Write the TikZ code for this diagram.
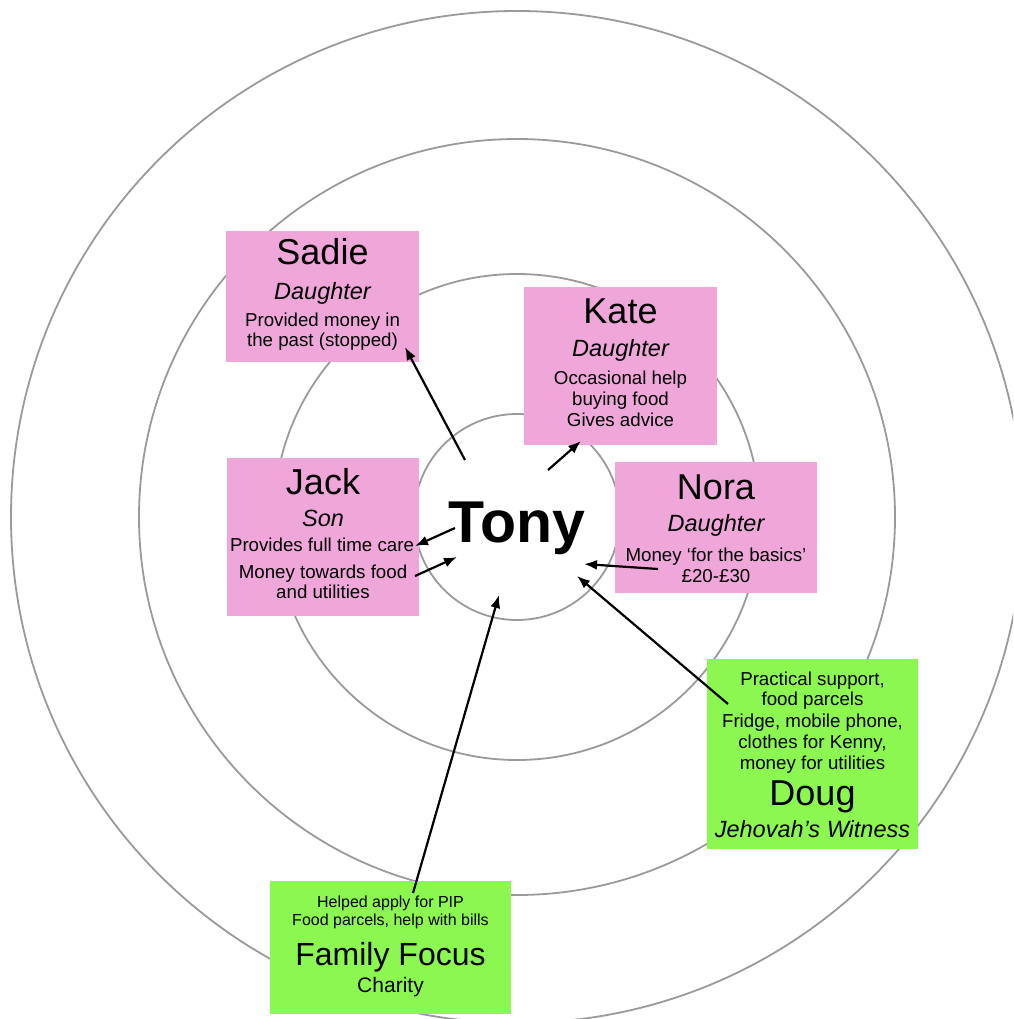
\documentclass[tikz,border=0pt]{standalone}
\usepackage{fontspec}
\setmainfont{Liberation Sans}
\usetikzlibrary{arrows.meta}
\definecolor{boxpink}{HTML}{EFA6D8}
\definecolor{boxgreen}{HTML}{8BF750}
\definecolor{ringgray}{HTML}{9A9A9A}

\begin{document}
\begin{tikzpicture}[x=1pt,y=-1pt,
  ring/.style={draw=ringgray, line width=1.8pt},
  kinbox/.style={fill=boxpink, draw=none, inner sep=0pt},
  aidbox/.style={fill=boxgreen, draw=none, inner sep=0pt},
  txt/.style={anchor=base, inner sep=0pt},
  persname/.style={txt, font=\fontsize{36}{40}\selectfont},
  rolelabel/.style={txt, font=\fontsize{23.5}{26}\selectfont\itshape},
  detail/.style={txt, font=\fontsize{18.7}{21}\selectfont},
  smalldetail/.style={txt, font=\fontsize{16}{18}\selectfont},
  link/.style={draw=black, line width=2.2pt, -{Latex[length=13pt,width=10pt]}}
]
\useasboundingbox (0,0) rectangle (1013,1019);
\clip (0,0) rectangle (1013,1019);

% concentric rings around Tony
\draw[ring] (517,517) circle[radius=103pt];
\draw[ring] (517,517) circle[radius=243pt];
\draw[ring] (517,517) circle[radius=378pt];
\draw[ring] (517,517) circle[radius=506pt];

% boxes
\node[kinbox, minimum width=193pt, minimum height=131pt] (sadie) at (322.5,296.5) {};
\node[kinbox, minimum width=193pt, minimum height=158pt] (kate) at (620.5,366) {};
\node[kinbox, minimum width=192pt, minimum height=158pt] (jack) at (323,537) {};
\node[kinbox, minimum width=202pt, minimum height=131pt] (nora) at (716,527.5) {};
\node[aidbox, minimum width=211pt, minimum height=190pt] (doug) at (812.5,754) {};
\node[aidbox, minimum width=241pt, minimum height=133pt] (ffocus) at (390.5,947.5) {};

% centre
\node[txt, font=\fontsize{59}{62}\selectfont\bfseries] (tony) at (517,542) {Tony};

% Sadie
\node[persname] (sadieN) at (322.5,264) {Sadie};
\node[rolelabel] (sadieR) at (322.5,299) {Daughter};
\node[detail] (sadieA) at (322.5,326) {Provided money in};
\node[detail] (sadieB) at (322.5,346) {the past (stopped)};

% Kate
\node[persname] (kateN) at (620.5,323) {Kate};
\node[rolelabel] (kateR) at (620.5,356) {Daughter};
\node[detail] (kateA) at (620.5,384) {Occasional help};
\node[detail] (kateB) at (620.5,405) {buying food};
\node[detail] (kateC) at (620.5,426) {Gives advice};

% Jack
\node[persname] (jackN) at (323,494) {Jack};
\node[rolelabel] (jackR) at (323,526) {Son};
\node[detail] (jackA) at (322,551) {Provides full time care};
\node[detail] (jackB) at (323,578) {Money towards food};
\node[detail] (jackC) at (323,598) {and utilities};

% Nora
\node[persname] (noraN) at (716,499) {Nora};
\node[rolelabel] (noraR) at (716,531) {Daughter};
\node[detail] (noraA) at (716,561) {Money ‘for the basics’};
\node[detail] (noraB) at (716,582) {£20-£30};

% Doug
\node[detail] (dougA) at (812.5,685) {Practical support,};
\node[detail] (dougB) at (812.5,705) {food parcels};
\node[detail] (dougC) at (812.5,727) {Fridge, mobile phone,};
\node[detail] (dougD) at (812.5,748) {clothes for Kenny,};
\node[detail] (dougE) at (812.5,769) {money for utilities};
\node[persname] (dougN) at (812.5,805) {Doug};
\node[rolelabel] (dougR) at (812.5,837) {Jehovah’s Witness};

% Family Focus
\node[smalldetail] (ffA) at (390.5,907) {Helped apply for PIP};
\node[smalldetail] (ffB) at (390.5,925) {Food parcels, help with bills};
\node[txt, font=\fontsize{32}{36}\selectfont] (ffN) at (390.5,965) {Family Focus};
\node[txt, font=\fontsize{21}{24}\selectfont] (ffR) at (390.5,992) {Charity};

% arrow ends
\coordinate (toSadieA) at (465,460);  \coordinate (toSadieB) at (405,347);
\coordinate (toKateA) at (548,470);   \coordinate (toKateB) at (581,441);
\coordinate (toJackA) at (455,528);   \coordinate (toJackB) at (415,546);
\coordinate (fromJackA) at (415,576); \coordinate (fromJackB) at (457,557);
\coordinate (fromNoraA) at (658,569); \coordinate (fromNoraB) at (584,564);
\coordinate (fromDougA) at (728,704); \coordinate (fromDougB) at (577,576);
\coordinate (fromFFA) at (413,893);   \coordinate (fromFFB) at (499,595);

\draw[link] (toSadieA) -- (toSadieB);
\draw[link] (toKateA) -- (toKateB);
\draw[link] (toJackA) -- (toJackB);
\draw[link] (fromJackA) -- (fromJackB);
\draw[link] (fromNoraA) -- (fromNoraB);
\draw[link] (fromDougA) -- (fromDougB);
\draw[link] (fromFFA) -- (fromFFB);
\end{tikzpicture}
\end{document}
